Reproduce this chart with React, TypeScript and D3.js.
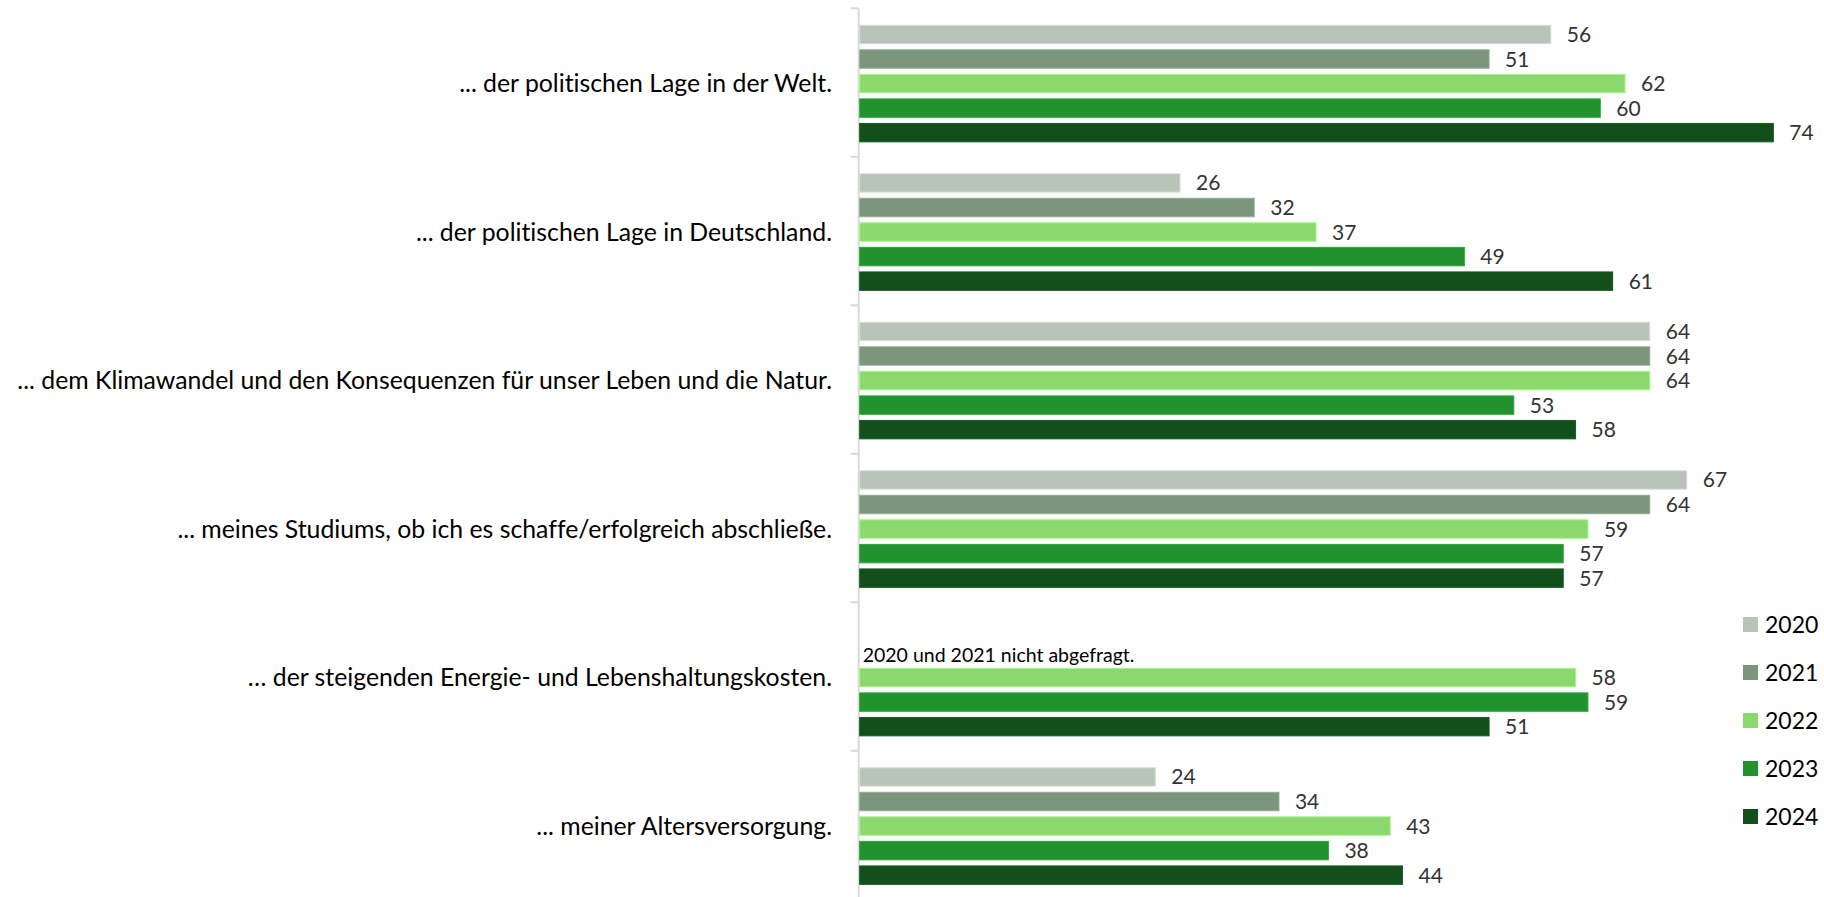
import React from "react";
import * as d3 from "d3";

const categories = [
  "... der politischen Lage in der Welt.",
  "... der politischen Lage in Deutschland.",
  "... dem Klimawandel und den Konsequenzen für unser Leben und die Natur.",
  "... meines Studiums, ob ich es schaffe/erfolgreich abschließe.",
  "… der steigenden Energie- und Lebenshaltungskosten.",
  "... meiner Altersversorgung.",
];
const years = ["2020", "2021", "2022", "2023", "2024"];
const values2020 = [56, 26, 64, 67, null, 24];
const values2021 = [51, 32, 64, 64, null, 34];
const values2022 = [62, 37, 64, 59, 58, 43];
const values2023 = [60, 49, 53, 57, 59, 38];
const values2024 = [74, 61, 58, 57, 51, 44];
const seriesValues = [values2020, values2021, values2022, values2023, values2024];
const colors = ["#b8c4b8", "#7b967c", "#8bd86f", "#21922e", "#124f1a"];
const note = "2020 und 2021 nicht abgefragt.";
const noteCategory = 4;

const W = 1824;
const H = 897;
const FONT = "Lato, 'Open Sans', sans-serif";

export default function App() {
  const x = d3.scaleLinear().domain([0, 74]).range([858.7, 858.7 + 74 * 12.36]);
  const y = d3.scaleBand<string>().domain(categories).range([8.3, 8.3 + 6 * 148.5]).padding(0);
  const yInner = d3
    .scaleBand<string>()
    .domain(years)
    .range([1, 149.5])
    .paddingInner(0.25)
    .paddingOuter(0.65);

  const axisX = x(0);

  return (
    <svg
      width={W}
      height={H}
      style={{
        position: "absolute",
        left: 0,
        top: 0,
        background: "#fff",
        fontVariantLigatures: "none",
        fontFeatureSettings: '"liga" 0, "clig" 0',
      }}
      fontFamily={FONT}
    >
      <line x1={axisX} x2={axisX} y1={y.range()[0]} y2={H} stroke="#d9d9d9" strokeWidth={2} />
      {categories.map((c, i) => (
        <line
          key={"t" + i}
          x1={axisX - 8}
          x2={axisX}
          y1={y(c) as number}
          y2={y(c) as number}
          stroke="#d9d9d9"
          strokeWidth={2}
        />
      ))}
      {categories.map((c, ci) => {
        const cy = y(c) as number;
        return (
          <g key={"c" + ci}>
            <text
              x={832}
              y={cy + y.bandwidth() / 2}
              textAnchor="end"
              dominantBaseline="central"
              fontSize={24.8}
              fill="#000"
            >
              {c}
            </text>
            {years.map((yr, si) => {
              const v = seriesValues[si][ci];
              if (v == null) return null;
              const by = cy + (yInner(yr) as number);
              const bh = yInner.bandwidth();
              return (
                <g key={yr}>
                  <rect
                    x={axisX + 1}
                    y={by}
                    width={x(v) - axisX - 1}
                    height={bh}
                    fill={colors[si]}
                    stroke={d3.color(colors[si])!.brighter(0.4).formatHex()}
                    strokeWidth={1}
                  />
                  <text x={x(v) + 16} y={by + bh / 2 + 7.5} fontSize={21} fill="#333333">
                    {v}
                  </text>
                </g>
              );
            })}
            {ci === noteCategory && (
              <text
                x={axisX + 4}
                y={cy + (yInner("2021") as number) + yInner.bandwidth()}
                fontSize={19.5}
                fill="#000"
              >
                {note}
              </text>
            )}
          </g>
        );
      })}
      {years.map((yr, i) => (
        <g key={"l" + yr} transform={`translate(1743, ${617 + i * 48})`}>
          <rect width={15} height={15} fill={colors[i]} />
          <text x={22} y={15.5} fontSize={23} fill="#000">
            {yr}
          </text>
        </g>
      ))}
    </svg>
  );
}
